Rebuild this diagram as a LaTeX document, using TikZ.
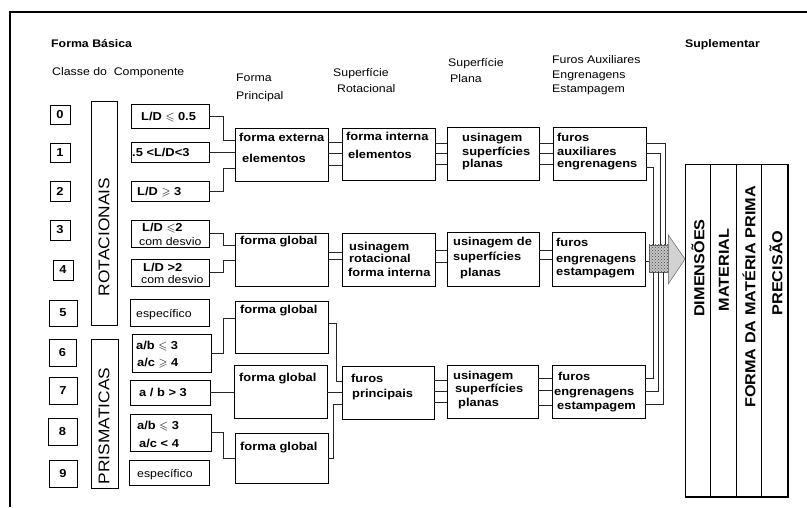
\documentclass[tikz,border=0pt]{standalone}
\usepackage{fontspec}
\usepackage{amssymb}
\setmainfont{Liberation Sans}[FakeStretch=1.12]
\usetikzlibrary{patterns}
\newcommand\mkbox[6]{\node[bx, minimum width={(#4-#2)*1pt}, minimum height={(#5-#3)*1pt}] (#1) at ({(#2+#4)/2},{(#3+#5)/2}) {#6};}
\begin{document}
\begin{tikzpicture}[x=1pt,y=-1pt,
  bx/.style={draw, line width=0.7pt, inner sep=0pt, outer sep=0pt, font=\fontsize{11.5}{13}\selectfont\bfseries},
  ln/.style={line width=0.6pt, black!85},
  t/.style={anchor=base west, inner sep=0pt, font=\fontsize{11}{13}\selectfont},
  tb/.style={anchor=base west, inner sep=0pt, font=\fontsize{11.5}{13}\selectfont\bfseries},
  hb/.style={anchor=base west, inner sep=0pt, font=\fontsize{11}{13}\selectfont\bfseries},
  vt/.style={rotate=90, inner sep=0pt, font=\fontsize{15.5}{17}\selectfont},
  vb/.style={rotate=90, inner sep=0pt, font=\fontsize{14.5}{16}\selectfont\bfseries},
]
\useasboundingbox (0,0) rectangle (807,507);
% frame
\draw[line width=1.6pt] (10,507) -- (10,12) -- (807,12);
% headings
\node[hb] (h1) at (51,47) {Forma Básica};
\node[t] (h2) at (52,75) {Classe do\ \ Componente};
\node[t] (h3a) at (236,81) {Forma};
\node[t] (h3b) at (236,99) {Principal};
\node[t] (h4a) at (333,76) {Superfície};
\node[t] (h4b) at (337,92) {Rotacional};
\node[t] (h5a) at (448,66) {Superfície};
\node[t] (h5b) at (450,82) {Plana};
\node[t] (h6a) at (552,63) {Furos Auxiliares};
\node[t] (h6b) at (552,78) {Engrenagens};
\node[t] (h6c) at (552,92) {Estampagem};
\node[hb] (h7) at (685,47) {Suplementar};
% number boxes
\mkbox{n0}{50}{105}{70}{124}{0}
\mkbox{n1}{50}{143}{70}{162}{1}
\mkbox{n2}{50}{181}{70}{201}{2}
\mkbox{n3}{50}{220}{70}{240}{3}
\mkbox{n4}{53}{260}{73}{280}{4}
\mkbox{n5}{49}{300}{77}{326}{5}
\mkbox{n6}{49}{339}{76}{366}{6}
\mkbox{n7}{49}{377}{77}{404}{7}
\mkbox{n8}{48}{418}{77}{445}{8}
\mkbox{n9}{49}{460}{77}{487}{9}
% class boxes
\mkbox{rot}{91}{101}{117}{325}{}
\mkbox{pri}{91}{339}{118}{488}{}
\node[vt] (rott) at (104,237) {ROTACIONAIS};
\node[vt] (prit) at (104,426) {PRISMATICAS};
% column 3
\mkbox{c0}{131}{104}{209}{128}{}
\mkbox{c1}{131}{142}{209}{162}{}
\mkbox{c2}{131}{181}{209}{201}{}
\mkbox{c3}{131}{220}{209}{247}{}
\mkbox{c4}{131}{259}{209}{286}{}
\mkbox{c5}{130}{299}{209}{326}{}
\mkbox{c6}{132}{334}{211}{372}{}
\mkbox{c7}{130}{380}{210}{405}{}
\mkbox{c8}{130}{414}{211}{451}{}
\mkbox{c9}{129}{460}{209}{485}{}
\node[tb] (c0t) at (141,120) {L/D $\leqslant$ 0.5};
\node[tb] (c1t) at (132,156) {.5 <L/D<3};
\node[tb] (c2t) at (137,195) {L/D $\geqslant$ 3};
\node[tb] (c3t) at (142,231) {L/D $\leqslant$2};
\node[t] (c3u) at (139,245) {com desvio};
\node[tb] (c4t) at (143,271) {L/D >2};
\node[t] (c4u) at (141,283) {com desvio};
\node[t] (c5t) at (136,317) {específico};
\node[tb] (c6t) at (136,349) {a/b $\leqslant$ 3};
\node[tb] (c6u) at (137,366) {a/c $\geqslant$ 4};
\node[tb] (c7t) at (139,396) {a / b > 3};
\node[tb] (c8t) at (137,429) {a/b $\leqslant$ 3};
\node[tb] (c8u) at (139,447) {a/c < 4};
\node[t] (c9t) at (137,477) {específico};
% column 4
\mkbox{fe}{235}{128}{328}{181}{}
\mkbox{fg1}{235}{233}{328}{286}{}
\mkbox{fg2}{235}{301}{328}{353}{}
\mkbox{fg3}{234}{365}{327}{418}{}
\mkbox{fg4}{235}{433}{328}{483}{}
\node[tb] (fet) at (239,141) {forma externa};
\node[tb] (feu) at (242,162) {elementos};
\node[tb] (fg1t) at (240,244) {forma global};
\node[tb] (fg2t) at (240,313) {forma global};
\node[tb] (fg3t) at (239,381) {forma global};
\node[tb] (fg4t) at (240,450) {forma global};
% column 5
\mkbox{fi}{342}{128}{435}{180}{}
\mkbox{ur}{342}{233}{435}{286}{}
\mkbox{fp}{342}{366}{434}{419}{}
\node[tb] (fit) at (346,140) {forma interna};
\node[tb] (fiu) at (348,158) {elementos};
\node[tb] (urt) at (349,250) {usinagem};
\node[tb] (uru) at (349,262) {rotacional};
\node[tb] (urv) at (348,276) {forma interna};
\node[tb] (fpt) at (351,382) {furos};
\node[tb] (fpu) at (352,397) {principais};
% column 6
\mkbox{up1}{447}{127}{539}{180}{}
\mkbox{up2}{447}{232}{539}{286}{}
\mkbox{up3}{447}{365}{538}{418}{}
\node[tb] (up1t) at (462,141) {usinagem};
\node[tb] (up1u) at (462,155) {superfícies};
\node[tb] (up1v) at (462,167) {planas};
\node[tb] (up2t) at (453,245) {usinagem de};
\node[tb] (up2u) at (453,260) {superfícies};
\node[tb] (up2v) at (460,276) {planas};
\node[tb] (up3t) at (453,379) {usinagem};
\node[tb] (up3u) at (455,392) {superfícies};
\node[tb] (up3v) at (458,406) {planas};
% column 7
\mkbox{fa1}{553}{127}{646}{180}{}
\mkbox{fa2}{552}{232}{645}{286}{}
\mkbox{fa3}{552}{365}{645}{418}{}
\node[tb] (fa1t) at (557,141) {furos};
\node[tb] (fa1u) at (557,155) {auxiliares};
\node[tb] (fa1v) at (557,167) {engrenagens};
\node[tb] (fa2t) at (556,246) {furos};
\node[tb] (fa2u) at (556,262) {engrenagens};
\node[tb] (fa2v) at (556,275) {estampagem};
\node[tb] (fa3t) at (558,380) {furos};
\node[tb] (fa3u) at (554,395) {engrenagens};
\node[tb] (fa3v) at (557,409) {estampagem};
% supplementary columns
\mkbox{dim}{685}{164}{710}{497}{}
\mkbox{mat}{710}{164}{736}{497}{}
\mkbox{fmp}{736}{164}{761}{497}{}
\mkbox{pre}{761}{164}{788}{497}{}
\draw[line width=1.3pt] (pre.north east) -- (pre.south east) -- (dim.south west);
\node[vb] (dimt) at (698,268) {DIMENSÕES};
\node[vb] (matt) at (724,270) {MATERIAL};
\node[vb] (fmpt) at (749,297) {FORMA DA MATÉRIA PRIMA};
\node[vb] (pret) at (776,273) {PRECISÃO};
% arrow
\node[draw=black!60, line width=0.5pt, fill=gray!45, inner sep=0pt, minimum width=19pt, minimum height=27pt] (arrbody) at (658.5,258.5) {};
\fill[pattern=crosshatch dots, pattern color=black!75] (arrbody.north west) rectangle (arrbody.south east);
\draw[draw=black!60, fill=gray!35, line width=0.5pt] (arrbody.east |- 0,235) -- (685,259) -- (arrbody.east |- 0,284) -- cycle;
% connectors col3 -> col4
\draw[ln] (c0.east) -- ++(14,0) |- (fe.west |- 0,140);
\draw[ln] (c1.east) -- (fe.west |- c1.east);
\draw[ln] (c2.east) -- ++(14,0) |- (fe.west |- 0,168);
\draw[ln] (c3.east) -- ++(14,0) |- (fg1.west |- 0,245);
\draw[ln] (c4.east) -- ++(14,0) |- (fg1.west |- 0,260);
\draw[ln] (c6.east) -- ++(12,0) |- (fg2.west |- 0,318);
\draw[ln] (c7.east) -- (fg3.west |- c7.east);
\draw[ln] (c8.east) -- ++(12,0) |- (fg4.west |- 0,458);
% col4 -> col5
\foreach \yy in {142,153,165} \draw[ln] (fe.east |- 0,\yy) -- (fi.west |- 0,\yy);
\foreach \yy in {252,259} \draw[ln] (fg1.east |- 0,\yy) -- (ur.west |- 0,\yy);
\draw[ln] (fg2.east |- 0,323) -- ++(8,0) |- (fp.west |- 0,381);
\draw[ln] (fg3.east |- 0,392) -- (fp.west |- 0,392);
\draw[ln] (fg4.east |- 0,458) -- ++(5,0) |- (fp.west |- 0,404);
% col5 -> col6
\foreach \yy in {143,153,164} \draw[ln] (fi.east |- 0,\yy) -- (up1.west |- 0,\yy);
\foreach \yy in {250,262} \draw[ln] (ur.east |- 0,\yy) -- (up2.west |- 0,\yy);
\foreach \yy in {380,391,402} \draw[ln] (fp.east |- 0,\yy) -- (up3.west |- 0,\yy);
% col6 -> col7
\foreach \yy in {143,153,164} \draw[ln] (up1.east |- 0,\yy) -- (fa1.west |- 0,\yy);
\foreach \yy in {250,259} \draw[ln] (up2.east |- 0,\yy) -- (fa2.west |- 0,\yy);
\foreach \yy in {378,390,405} \draw[ln] (up3.east |- 0,\yy) -- (fa3.west |- 0,\yy);
% col7 -> arrow
\draw[ln] (fa1.east |- 0,143) -| (arrbody.north -| 665,0);
\draw[ln] (fa1.east |- 0,153) -| (arrbody.north -| 660,0);
\draw[ln] (fa1.east |- 0,167) -| (arrbody.north -| 653,0);
\draw[ln] (fa2.east |- 0,261) -- (arrbody.west |- 0,261);
\draw[ln] (fa3.east |- 0,378) -| (arrbody.south -| 653,0);
\draw[ln] (fa3.east |- 0,391) -| (arrbody.south -| 658,0);
\draw[ln] (fa3.east |- 0,404) -| (arrbody.south -| 663,0);
\end{tikzpicture}
\end{document}
